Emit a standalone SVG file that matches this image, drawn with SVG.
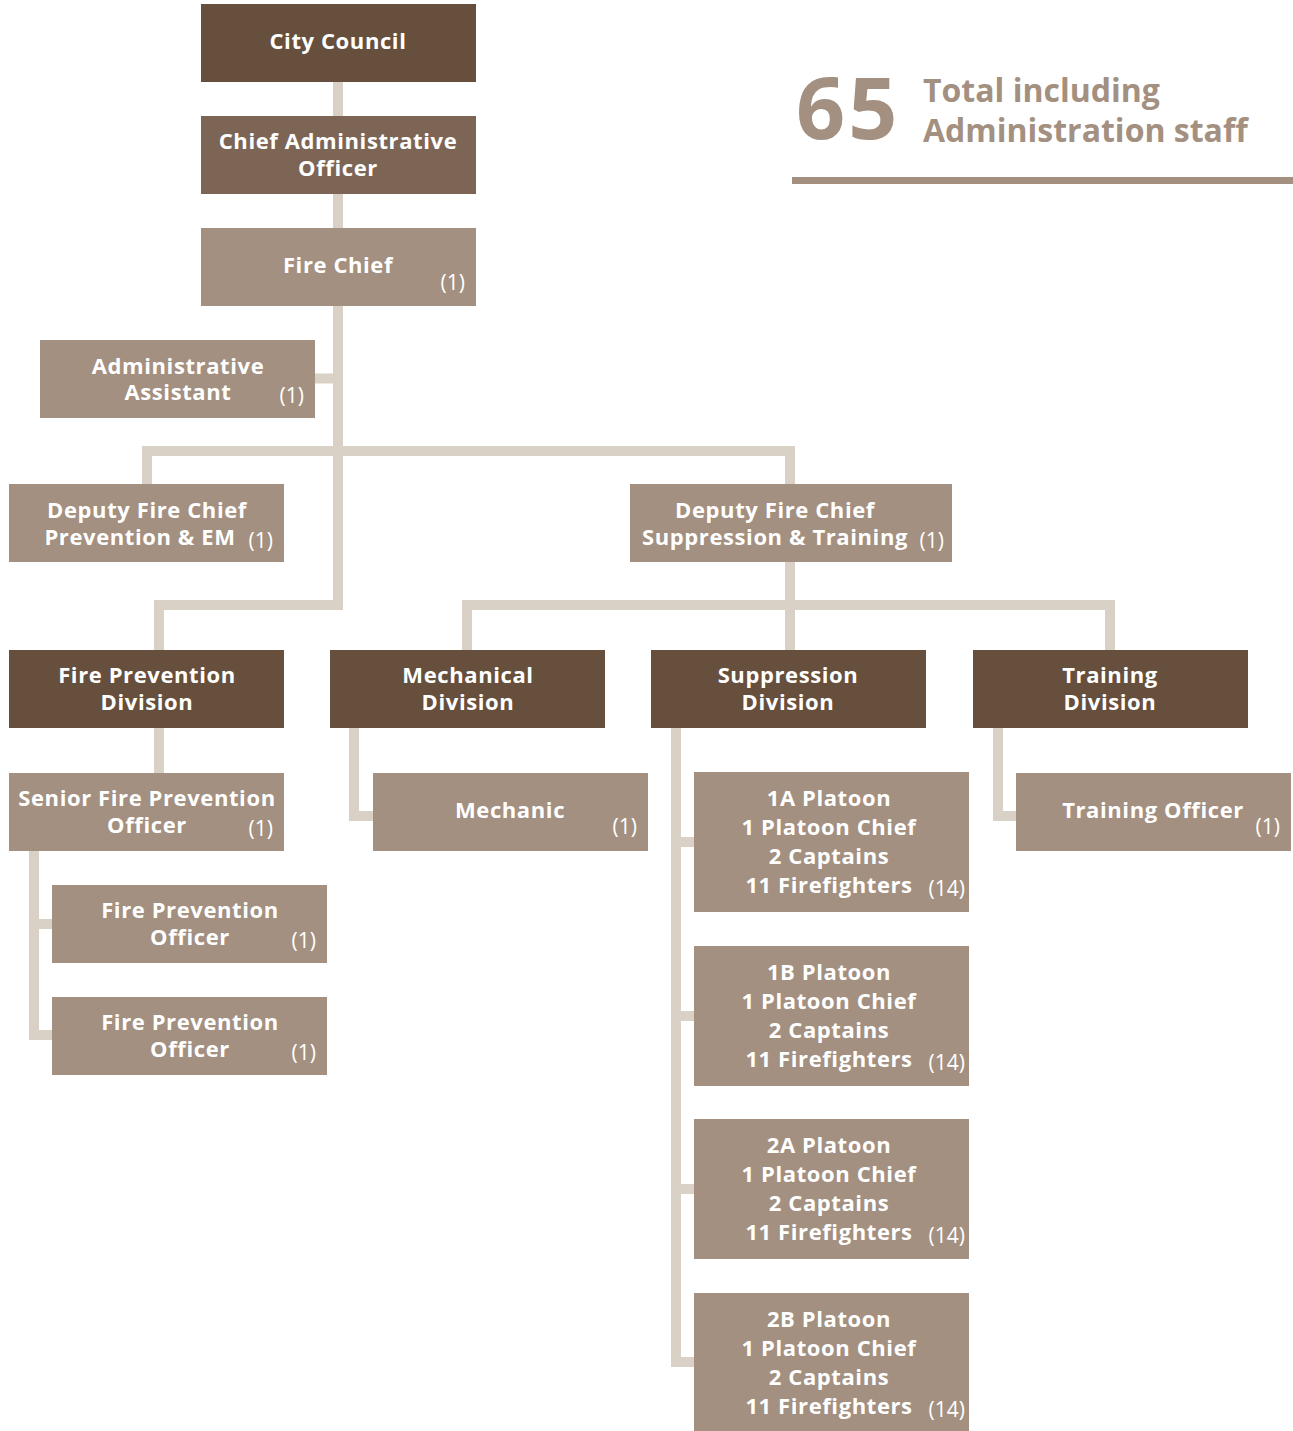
<svg xmlns="http://www.w3.org/2000/svg" width="1293" height="1431" viewBox="0 0 1293 1431">
<style>
.bg{fill:#ffffff}
.dark{fill:#674F3D}
.mid{fill:#7D6556}
.light{fill:#A39080}
.conn{fill:none;stroke:#D9D1C5;stroke-width:10;stroke-linejoin:miter;stroke-linecap:butt}
.t{font-family:"Open Sans","Liberation Sans",sans-serif;font-weight:700;font-size:22px;letter-spacing:0.6px;fill:#ffffff;text-anchor:middle}
.n{font-family:"Open Sans","Liberation Sans",sans-serif;font-weight:400;font-size:21px;fill:#ffffff;text-anchor:end}
.big{font-family:"Open Sans","Liberation Sans",sans-serif;font-weight:700;fill:#A39080}
</style>
<rect class="bg" x="0" y="0" width="1293" height="1431"/>
<g id="connectors">
<path class="conn" d="M338 82 V605 H159 V650"/>
<path class="conn" d="M315 378.5 H338"/>
<path class="conn" d="M147 484 V451 H790 V484"/>
<path class="conn" d="M790 562 V650"/>
<path class="conn" d="M467 650 V605 H1110 V650"/>
<path class="conn" d="M159 728 V773"/>
<path class="conn" d="M34 851 V1035 H52 M34 924 H52"/>
<path class="conn" d="M354 728 V816 H373"/>
<path class="conn" d="M998 728 V816 H1016"/>
<path class="conn" d="M676 728 V1362 H694 M676 842 H694 M676 1016 H694 M676 1189 H694"/>
</g>
<g id="stat">
<text class="big" x="796" y="139" font-size="86" font-weight="800" letter-spacing="3">65</text>
<text class="big" font-size="32"><tspan x="923" y="102">Total including</tspan><tspan x="923" y="142">Administration staff</tspan></text>
<rect x="792" y="177" width="501" height="7" fill="#A39080"/>
</g>
<g id="city-council">
<rect class="dark" x="201" y="4" width="275" height="78"/>
<text class="t" x="338" y="49">City Council</text>
</g>
<g id="cao">
<rect class="mid" x="201" y="116" width="275" height="78"/>
<text class="t"><tspan x="338" y="149">Chief Administrative</tspan><tspan x="338" y="176">Officer</tspan></text>
</g>
<g id="fire-chief">
<rect class="light" x="201" y="228" width="275" height="78"/>
<text class="t" x="338" y="273">Fire Chief</text>
<text class="n" x="465" y="290">(1)</text>
</g>
<g id="admin-assistant">
<rect class="light" x="40" y="340" width="275" height="78"/>
<text class="t"><tspan x="178" y="374">Administrative</tspan><tspan x="178" y="400">Assistant</tspan></text>
<text class="n" x="304" y="403">(1)</text>
</g>
<g id="deputy-prevention">
<rect class="light" x="9" y="484" width="275" height="78"/>
<text class="t"><tspan x="147" y="518">Deputy Fire Chief</tspan><tspan x="140" y="545">Prevention &amp; EM</tspan></text>
<text class="n" x="273" y="548">(1)</text>
</g>
<g id="deputy-suppression">
<rect class="light" x="630" y="484" width="322" height="78"/>
<text class="t"><tspan x="775" y="518">Deputy Fire Chief</tspan><tspan x="775" y="545">Suppression &amp; Training</tspan></text>
<text class="n" x="944" y="548">(1)</text>
</g>
<g id="fire-prevention-division">
<rect class="dark" x="9" y="650" width="275" height="78"/>
<text class="t"><tspan x="147" y="683">Fire Prevention</tspan><tspan x="147" y="710">Division</tspan></text>
</g>
<g id="mechanical-division">
<rect class="dark" x="330" y="650" width="275" height="78"/>
<text class="t"><tspan x="468" y="683">Mechanical</tspan><tspan x="468" y="710">Division</tspan></text>
</g>
<g id="suppression-division">
<rect class="dark" x="651" y="650" width="275" height="78"/>
<text class="t"><tspan x="788" y="683">Suppression</tspan><tspan x="788" y="710">Division</tspan></text>
</g>
<g id="training-division">
<rect class="dark" x="973" y="650" width="275" height="78"/>
<text class="t"><tspan x="1110" y="683">Training</tspan><tspan x="1110" y="710">Division</tspan></text>
</g>
<g id="senior-fpo">
<rect class="light" x="9" y="773" width="275" height="78"/>
<text class="t"><tspan x="147" y="806">Senior Fire Prevention</tspan><tspan x="147" y="833">Officer</tspan></text>
<text class="n" x="273" y="836">(1)</text>
</g>
<g id="fpo-1">
<rect class="light" x="52" y="885" width="275" height="78"/>
<text class="t"><tspan x="190" y="918">Fire Prevention</tspan><tspan x="190" y="945">Officer</tspan></text>
<text class="n" x="316" y="948">(1)</text>
</g>
<g id="fpo-2">
<rect class="light" x="52" y="997" width="275" height="78"/>
<text class="t"><tspan x="190" y="1030">Fire Prevention</tspan><tspan x="190" y="1057">Officer</tspan></text>
<text class="n" x="316" y="1060">(1)</text>
</g>
<g id="mechanic">
<rect class="light" x="373" y="773" width="275" height="78"/>
<text class="t" x="510" y="818">Mechanic</text>
<text class="n" x="637" y="834">(1)</text>
</g>
<g id="training-officer">
<rect class="light" x="1016" y="773" width="275" height="78"/>
<text class="t" x="1153" y="818">Training Officer</text>
<text class="n" x="1280" y="834">(1)</text>
</g>
<g id="platoon-1a">
<rect class="light" x="694" y="772" width="275" height="140"/>
<text class="t"><tspan x="829" y="806">1A Platoon</tspan><tspan x="829" y="835">1 Platoon Chief</tspan><tspan x="829" y="864">2 Captains</tspan><tspan x="829" y="893">11 Firefighters</tspan></text>
<text class="n" x="965" y="896">(14)</text>
</g>
<g id="platoon-1b">
<rect class="light" x="694" y="946" width="275" height="140"/>
<text class="t"><tspan x="829" y="980">1B Platoon</tspan><tspan x="829" y="1009">1 Platoon Chief</tspan><tspan x="829" y="1038">2 Captains</tspan><tspan x="829" y="1067">11 Firefighters</tspan></text>
<text class="n" x="965" y="1070">(14)</text>
</g>
<g id="platoon-2a">
<rect class="light" x="694" y="1119" width="275" height="140"/>
<text class="t"><tspan x="829" y="1153">2A Platoon</tspan><tspan x="829" y="1182">1 Platoon Chief</tspan><tspan x="829" y="1211">2 Captains</tspan><tspan x="829" y="1240">11 Firefighters</tspan></text>
<text class="n" x="965" y="1243">(14)</text>
</g>
<g id="platoon-2b">
<rect class="light" x="694" y="1293" width="275" height="138"/>
<text class="t"><tspan x="829" y="1327">2B Platoon</tspan><tspan x="829" y="1356">1 Platoon Chief</tspan><tspan x="829" y="1385">2 Captains</tspan><tspan x="829" y="1414">11 Firefighters</tspan></text>
<text class="n" x="965" y="1417">(14)</text>
</g>
</svg>
